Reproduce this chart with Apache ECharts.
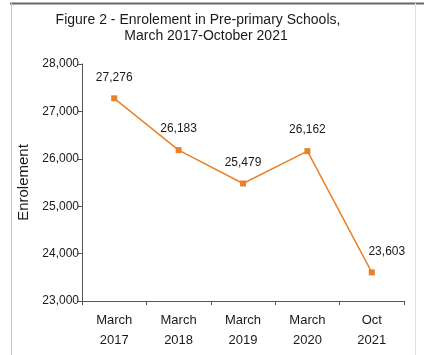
<!DOCTYPE html>
<html><head><meta charset="utf-8">
<script src="https://cdn.jsdelivr.net/npm/echarts@6/dist/echarts.min.js"></script>
<style>html,body{margin:0;padding:0;background:#fff}#c{width:424px;height:355px}</style>
</head><body><div id="c"></div>
<script>
const categories = ["March\n2017", "March\n2018", "March\n2019", "March\n2020", "Oct\n2021"];
const enrolment = [27276, 26183, 25479, 26162, 23603];
const titleLines = ["Figure 2 - Enrolement in Pre-primary Schools,", "March 2017-October 2021"];
const yAxisName = "Enrolement";

const font = "'Liberation Sans', Arial, sans-serif";
const chart = echarts.init(document.getElementById('c'), null, {renderer: 'canvas'});
chart.setOption({
  animation: false,
  backgroundColor: '#fff',
  title: [
    {text: titleLines[0], left: 193, top: 8, textAlign: 'center',
     textStyle: {fontFamily: font, fontSize: 14, fontWeight: 'normal', color: '#1a1a1a'}},
    {text: titleLines[1], left: 201, top: 24, textAlign: 'center',
     textStyle: {fontFamily: font, fontSize: 14, fontWeight: 'normal', color: '#1a1a1a'}}
  ],
  graphic: [
    {type: 'line', shape: {x1: 10, y1: 3.5, x2: 424, y2: 3.5}, style: {stroke: '#666', lineWidth: 2}},
    {type: 'line', shape: {x1: 11.5, y1: 3, x2: 11.5, y2: 355}, style: {stroke: '#c8c8c8', lineWidth: 1}},
    {type: 'line', shape: {x1: 415.5, y1: 3, x2: 415.5, y2: 355}, style: {stroke: '#e0e0e0', lineWidth: 1}}
  ],
  grid: {left: 82, right: 20, top: 64, bottom: 54},
  xAxis: {
    type: 'category', data: categories, boundaryGap: true,
    axisLine: {lineStyle: {color: '#555', width: 1}},
    axisTick: {show: true, length: 4, lineStyle: {color: '#555'}},
    axisLabel: {fontFamily: font, fontSize: 13, color: '#1a1a1a', lineHeight: 20, margin: 9}
  },
  yAxis: {
    type: 'value', min: 23000, max: 28000, interval: 1000,
    name: yAxisName, nameLocation: 'middle', nameGap: 48, nameRotate: 90,
    nameTextStyle: {fontFamily: font, fontSize: 15, color: '#1a1a1a'},
    axisLine: {show: true, lineStyle: {color: '#555', width: 1}},
    axisTick: {show: true, length: 4, lineStyle: {color: '#555'}},
    splitLine: {show: false},
    axisLabel: {fontFamily: font, fontSize: 12, color: '#1a1a1a', margin: 3,
      formatter: v => v.toLocaleString('en-US')}
  },
  series: [{
    type: 'line', data: enrolment,
    symbol: 'rect', symbolSize: 6,
    lineStyle: {color: '#E8822A', width: 1.5},
    itemStyle: {color: '#E8822A'},
    label: {show: true, position: 'top', distance: 12, fontFamily: font, fontSize: 12, color: '#1a1a1a',
      formatter: p => p.value.toLocaleString('en-US')},
    labelLayout: p => p.dataIndex === 4 ? {dx: 15} : {}
  }]
});
</script></body></html>
